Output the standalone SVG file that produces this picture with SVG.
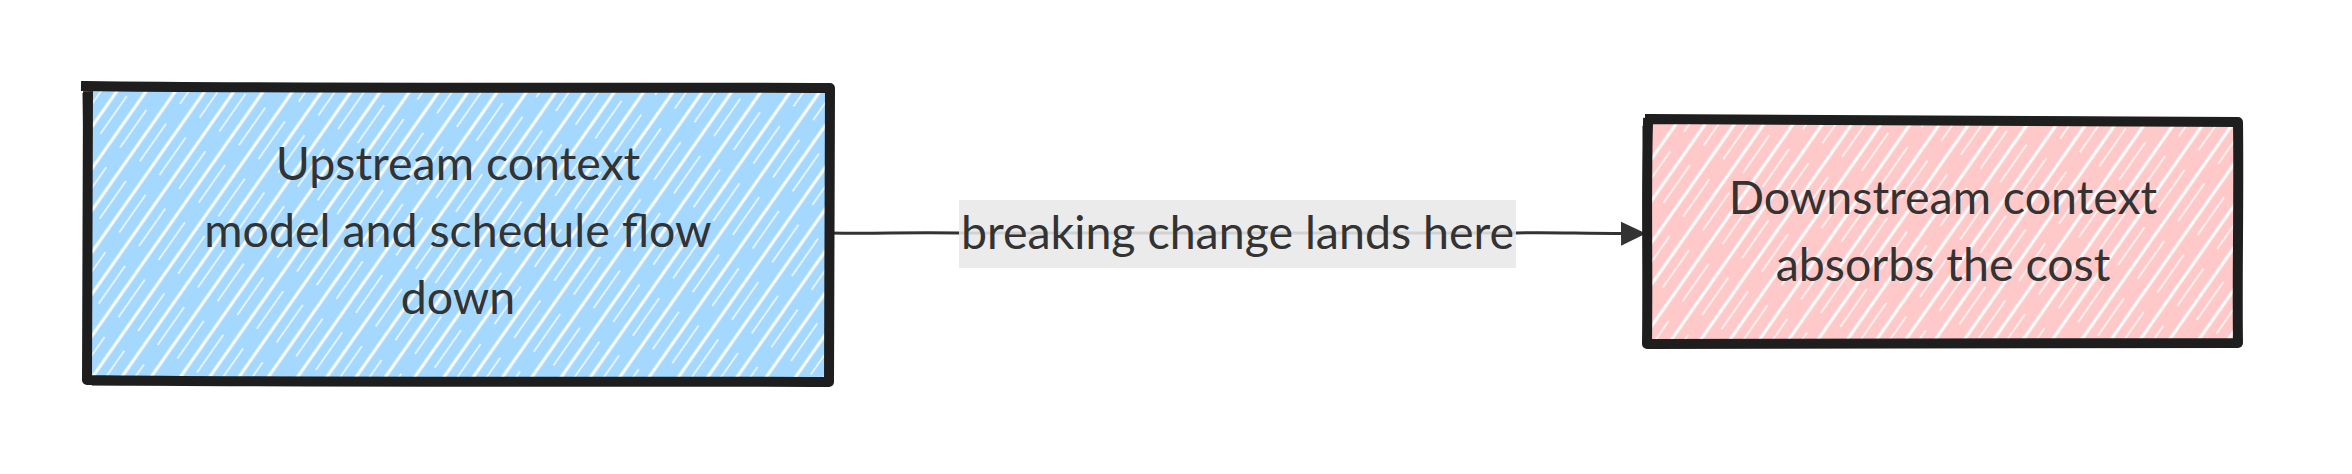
<svg xmlns="http://www.w3.org/2000/svg" width="2352" height="474" viewBox="0 0 2352 474">
  <defs>
    <pattern id="hatch" patternUnits="userSpaceOnUse" width="24" height="70" patternTransform="rotate(35)">
      <line x1="4" y1="0" x2="4" y2="70" stroke="#ffffff" stroke-width="3"/>
      <line x1="15" y1="6" x2="15" y2="52" stroke="#ffffff" stroke-width="1.6" opacity="0.85"/>
    </pattern>
    <marker id="arrow" viewBox="0 0 26 26" refX="24" refY="13" markerWidth="26" markerHeight="26" markerUnits="userSpaceOnUse" orient="auto">
      <path d="M0,1 L25,13 L0,25 Z" fill="#333333"/>
    </marker>
    <style>
      .border { fill: none; stroke: #1e1e1e; stroke-width: 10; stroke-linejoin: round; stroke-linecap: square; }
      .border2 { fill: none; stroke: #1e1e1e; stroke-width: 3; }
      .lbl { font-family: Lato, "Liberation Sans", sans-serif; font-size: 46.5px; fill: #333333; text-anchor: middle; }
      .edge { fill: none; stroke: #333333; stroke-width: 3; }
    </style>
  </defs>
  <rect width="2352" height="474" fill="#ffffff"/>

  <g id="connectors">
    <path class="edge" d="M830,233 C880,234 900,232 960,233 L1516,233 C1560,232 1580,234 1645,233.5" marker-end="url(#arrow)"/>
  </g>

  <g id="edge-label">
    <rect x="959" y="200" width="557" height="68" fill="#e8e8e8" opacity="0.88"/>
    <text class="lbl" x="1237.5" y="249">breaking change lands here</text>
  </g>

  <g id="upstream">
    <rect x="88" y="88" width="741" height="293" fill="#a5d8ff"/>
    <rect x="88" y="88" width="741" height="293" fill="url(#hatch)"/>
    <path class="border" d="M86,86 C300,89 600,87 830,88 C829,180 830,290 829,382 C600,381 300,383 87,380 C88,280 87,180 88,90"/>
    <path class="border2" d="M90,84 C350,86 600,85 826,90 M84,93 C86,200 85,300 86,376 M92,384 C400,385 650,384 826,383"/>
    <text class="lbl" x="458" y="180">Upstream context</text>
    <text class="lbl" x="458" y="247">model and schedule flow</text>
    <text class="lbl" x="458" y="314">down</text>
  </g>

  <g id="downstream">
    <rect x="1648" y="121" width="590" height="222" fill="#ffc9c9"/>
    <rect x="1648" y="121" width="590" height="222" fill="url(#hatch)"/>
    <path class="border" d="M1650,119 C1850,121 2050,120 2238,122 C2239,200 2237,280 2238,343 C2050,344 1850,342 1647,344 C1648,270 1646,190 1648,123"/>
    <path class="border2" d="M1652,117 C1900,118 2100,117 2236,120 M1644,126 C1646,200 1645,280 1646,340 M1652,346 C1900,347 2100,346 2236,345"/>
    <text class="lbl" x="1943" y="214">Downstream context</text>
    <text class="lbl" x="1943" y="281">absorbs the cost</text>
  </g>
</svg>
